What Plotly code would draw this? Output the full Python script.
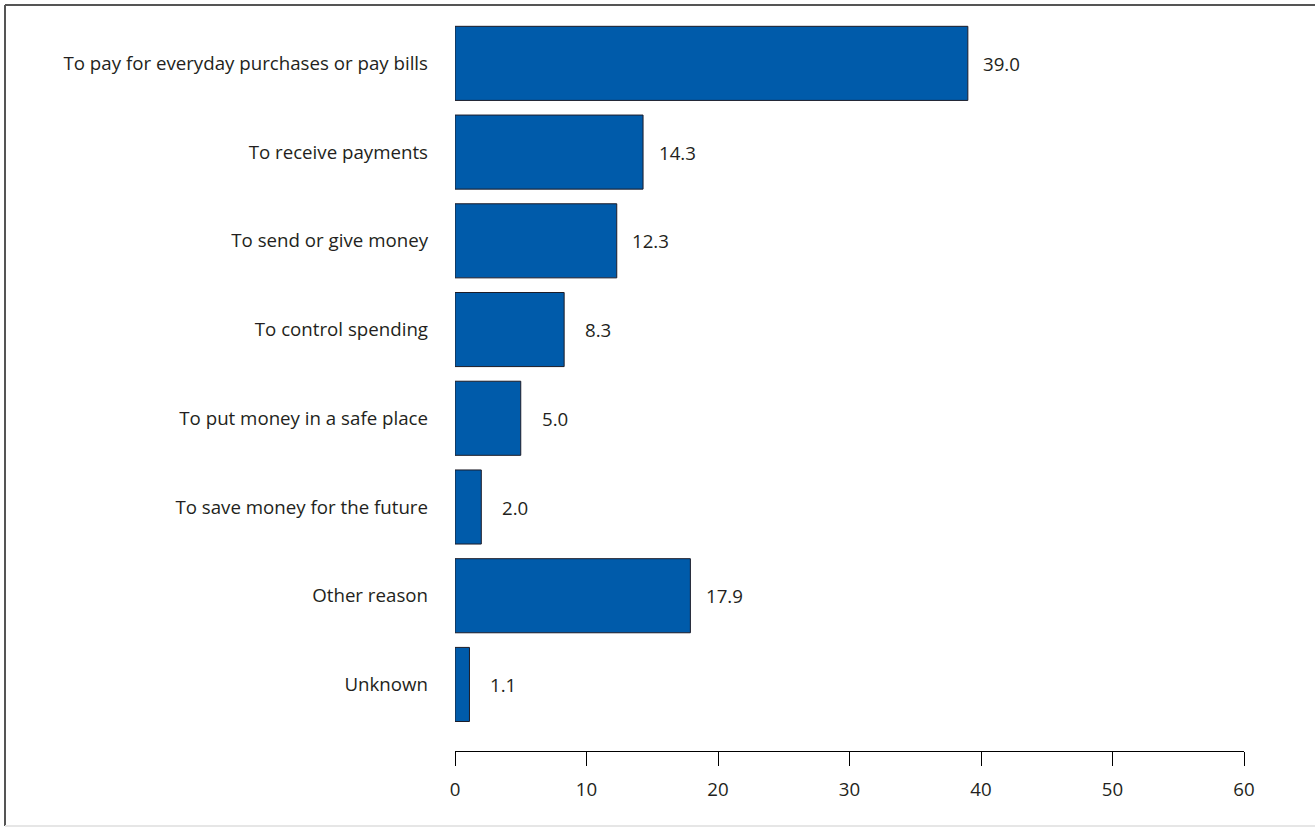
import plotly.graph_objects as go

categories = [
    "To pay for everyday purchases or pay bills",
    "To receive payments",
    "To send or give money",
    "To control spending",
    "To put money in a safe place",
    "To save money for the future",
    "Other reason",
    "Unknown",
]
values = [39.0, 14.3, 12.3, 8.3, 5.0, 2.0, 17.9, 1.1]
x_ticks = [0, 10, 20, 30, 40, 50, 60]

FONT = "Open Sans"
TXT = "#231f20"
FS = 18.7

fig = go.Figure()
fig.add_trace(go.Bar(
    y=categories, x=values, orientation="h",
    marker=dict(color="#005BAA", line=dict(color="#1c1c28", width=1)),
    width=0.835, hoverinfo="skip",
))

for c, v in zip(categories, values):
    fig.add_annotation(x=v, y=c, text=f"{v:.1f}", showarrow=False,
                       xanchor="center", yanchor="middle", xshift=34,
                       font=dict(family=FONT, size=FS, color=TXT))

W, H = 1315, 827
L, R, T, B = 455, 71, 18.6, 76
pw = W - L - R
ph = H - T - B

def px(xp):
    return (xp - L) / pw

def py(yp):
    return (H - B - yp) / ph

shapes = [
    dict(type="line", xref="paper", yref="paper", x0=px(5), x1=px(5), y0=py(4.5), y1=py(826),
         line=dict(color="#555555", width=2)),
    dict(type="line", xref="paper", yref="paper", x0=px(5), x1=px(1320), y0=py(4.5), y1=py(4.5),
         line=dict(color="#555555", width=2)),
    dict(type="line", xref="paper", yref="paper", x0=px(5), x1=px(1320), y0=py(826), y1=py(826),
         line=dict(color="#e6e6e6", width=2)),
]

fig.update_layout(
    width=W, height=H,
    margin=dict(l=L, r=R, t=T, b=B, pad=0),
    paper_bgcolor="white", plot_bgcolor="white",
    showlegend=False,
    font=dict(family=FONT, size=FS, color=TXT),
    shapes=shapes,
    xaxis=dict(range=[0, 60], tickvals=x_ticks, showgrid=False, zeroline=False,
               showline=True, linecolor="black", linewidth=1,
               ticks="outside", ticklen=14, tickcolor="black", tickwidth=1,
               ticklabelstandoff=8, fixedrange=True,
               tickfont=dict(family=FONT, size=FS, color=TXT)),
    yaxis=dict(type="category", range=[7.75, -0.5], showgrid=False, zeroline=False,
               showline=False, ticks="", ticklabelstandoff=26,
               tickfont=dict(family=FONT, size=FS, color=TXT)),
)

fig.write_html("out.html", config={"displayModeBar": False},
               post_script="document.body.style.margin='0';document.body.style.overflow='hidden';")
